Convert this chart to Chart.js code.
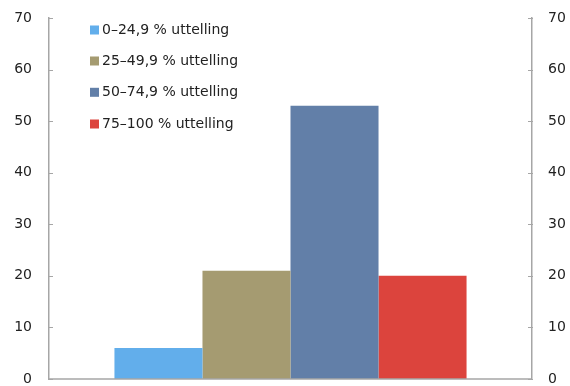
<!DOCTYPE html>
<html><head><meta charset="utf-8">
<script src="https://cdn.jsdelivr.net/npm/chart.js@4"></script>
<style>html,body{margin:0;padding:0;background:#fff}#wrap{width:570px;height:386px}</style>
</head><body><div id="wrap"><canvas id="c" width="570" height="386"></canvas></div>
<script>
const categories = [''];
const seriesLabels = ['0–24,9 % uttelling', '25–49,9 % uttelling', '50–74,9 % uttelling', '75–100 % uttelling'];
const seriesValues = [[6], [21], [53], [20]];
const seriesColors = ['#62AEEB', '#A59B71', '#627FA8', '#DC443D'];
const yTicks = [0, 10, 20, 30, 40, 50, 60, 70];

const FONT = 'DejaVu Sans';
const AXIS = '#A6A6A6';

const innerTicks = {
  id: 'innerTicks',
  afterDraw(chart) {
    const ctx = chart.ctx;
    const a = chart.chartArea;
    ctx.save();
    ctx.strokeStyle = AXIS; ctx.lineWidth = 1.5;
    ctx.beginPath(); ctx.moveTo(a.left, a.bottom); ctx.lineTo(a.right, a.bottom); ctx.stroke();
    ctx.lineWidth = 1;
    ['y', 'y2'].forEach(id => {
      const s = chart.scales[id];
      const x = id === 'y' ? a.left : a.right;
      const dir = id === 'y' ? 1 : -1;
      yTicks.forEach(v => {
        const py = Math.round(s.getPixelForValue(v)) + 0.5;
        ctx.beginPath(); ctx.moveTo(x - dir * 1, py); ctx.lineTo(x + dir * 4, py); ctx.stroke();
      });
    });
    // legend
    const lx = 90, ys = [30, 61, 92.3, 124];
    ctx.font = '14px "' + FONT + '"';
    ctx.textBaseline = 'middle';
    chart.data.datasets.forEach((d, i) => {
      ctx.fillStyle = d.backgroundColor;
      ctx.fillRect(lx, ys[i] - 4.5, 9, 9);
      ctx.fillStyle = '#222';
      ctx.fillText(d.label, lx + 12, ys[i] + 0.5);
    });
    ctx.restore();
  }
};

function fixY(w) {
  return function (s) { s.width = w; s.paddingTop = 0; s.paddingBottom = 0; };
}

new Chart(document.getElementById('c'), {
  type: 'bar',
  data: {
    labels: categories,
    datasets: seriesLabels.map((l, i) => ({
      label: l, data: seriesValues[i], backgroundColor: seriesColors[i],
      borderWidth: 0, yAxisID: 'y', barPercentage: 1, categoryPercentage: 0.729
    }))
  },
  options: {
    responsive: false, animation: false,
    layout: { padding: { top: 18, left: 0, right: 0, bottom: 7 } },
    plugins: { legend: { display: false }, tooltip: { enabled: false } },
    scales: {
      x: { display: false },
      y: {
        position: 'left', min: 0, max: 70,
        afterBuildTicks(s) { s.ticks = yTicks.map(v => ({ value: v })); },
        grid: { display: false, drawTicks: false },
        border: { display: true, color: AXIS, width: 1.5 },
        ticks: { color: '#222', font: { family: FONT, size: 14 }, padding: 17 },
        afterFit: fixY(49)
      },
      y2: {
        position: 'right', min: 0, max: 70,
        afterBuildTicks(s) { s.ticks = yTicks.map(v => ({ value: v })); },
        grid: { display: false, drawTicks: false },
        border: { display: true, color: AXIS, width: 1.5 },
        ticks: { color: '#222', font: { family: FONT, size: 14 }, padding: 16 },
        afterFit: fixY(38)
      }
    }
  },
  plugins: [innerTicks]
});
</script></body></html>
